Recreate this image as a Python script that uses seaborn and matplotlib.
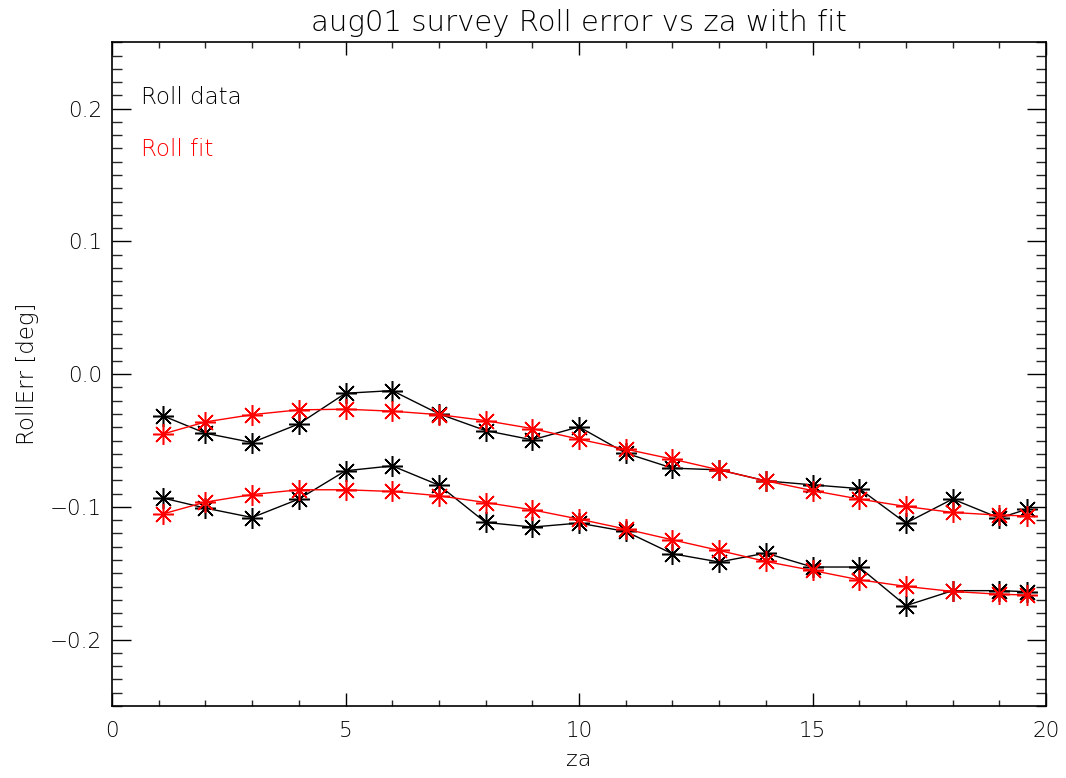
import matplotlib
matplotlib.use("Agg")
import matplotlib.pyplot as plt
import seaborn as sns
import pandas as pd
from matplotlib.ticker import MultipleLocator

# ---- data ----
za = [1.1, 2, 3, 4, 5, 6, 7, 8, 9, 10, 11, 12, 13, 14, 15, 16, 17, 18, 19, 19.6]

upper_data = [-0.0315, -0.0445, -0.0515, -0.0375, -0.0144, -0.0124, -0.0299, -0.0425,
              -0.0495, -0.0397, -0.0595, -0.0708, -0.0721, -0.0804, -0.0834, -0.0862,
              -0.1122, -0.0941, -0.1084, -0.1017]
upper_fit = [-0.0450, -0.0360, -0.0305, -0.0269, -0.0264, -0.0279, -0.0305, -0.0350,
             -0.0410, -0.0490, -0.0565, -0.0640, -0.0721, -0.0804, -0.0877, -0.0941,
             -0.0997, -0.1042, -0.1062, -0.1068]
lower_data = [-0.0934, -0.1009, -0.1080, -0.0941, -0.0728, -0.0691, -0.0836, -0.1117,
              -0.1152, -0.1122, -0.1185, -0.1353, -0.1415, -0.1348, -0.1453, -0.1453,
              -0.1744, -0.1631, -0.1631, -0.1639]
lower_fit = [-0.1052, -0.0964, -0.0907, -0.0871, -0.0871, -0.0884, -0.0916, -0.0967,
             -0.1022, -0.1092, -0.1167, -0.1248, -0.1328, -0.1411, -0.1479, -0.1549,
             -0.1599, -0.1637, -0.1658, -0.1664]

title = "aug01 survey Roll error vs za with fit"
xlabel = "za"
ylabel = "RollErr [deg]"
legend_labels = ["Roll data", "Roll fit"]

# ---- style ----
sns.set_theme(style="white")
plt.rcParams["font.family"] = ["DejaVu Sans"]
plt.rcParams["font.weight"] = "light"
plt.rcParams["text.color"] = "black"

fig = plt.figure(figsize=(10.66, 7.78), dpi=100)
ax = fig.add_axes([112 / 1066, 1 - 706 / 778, 934 / 1066, (706 - 42.3) / 778])

marker = (8, 2, 0)
series = [
    (upper_data, "black"),
    (lower_data, "black"),
    (upper_fit, "red"),
    (lower_fit, "red"),
]
for vals, col in series:
    df = pd.DataFrame({"za": za, "err": vals})
    sns.lineplot(data=df, x="za", y="err", ax=ax, color=col, lw=1.0,
                 marker=marker, markersize=15, markeredgewidth=1.1,
                 markeredgecolor=col, sort=False, errorbar=None)

ax.set_xlim(0, 20)
ax.set_ylim(-0.25, 0.25)
ax.xaxis.set_minor_locator(MultipleLocator(1))
ax.yaxis.set_minor_locator(MultipleLocator(0.01))
ax.set_xticks([0, 5, 10, 15, 20])
ax.set_xticklabels(["0", "5", "10", "15", "20"])
ax.set_yticks([-0.2, -0.1, 0.0, 0.1, 0.2])
ax.set_yticklabels(["\u22120.2", "\u22120.1", "0.0", "0.1", "0.2"])

ax.tick_params(axis="x", which="major", direction="in", length=9.4, width=1.0,
               top=True, bottom=True, labelsize=15.5, pad=11, colors="black")
ax.tick_params(axis="x", which="minor", direction="in", length=4.5, width=1.0,
               top=True, bottom=True)
ax.tick_params(axis="y", which="major", direction="in", length=13.7, width=1.0,
               left=True, right=True, labelsize=15.5, pad=7, colors="black")
ax.tick_params(axis="y", which="minor", direction="in", length=7, width=1.0,
               left=True, right=True)
for lab in ax.get_xticklabels() + ax.get_yticklabels():
    lab.set_fontweight("light")
for sp in ax.spines.values():
    sp.set_color("black")
    sp.set_linewidth(1.2)

ax.set_title(title, fontsize=21, pad=8, color="black", fontweight="light")
ax.set_xlabel(xlabel, fontsize=16, labelpad=6, color="black", fontweight="light")
ax.set_ylabel(ylabel, fontsize=16.5, labelpad=8, color="black", fontweight="light")

ax.text(0.0315, 0.917, legend_labels[0], transform=ax.transAxes, color="black",
        fontsize=16.5, va="center", ha="left", fontweight="light")
ax.text(0.0315, 0.838, legend_labels[1], transform=ax.transAxes, color="red",
        fontsize=16.5, va="center", ha="left", fontweight="light")

fig.savefig("out.png", dpi=100, facecolor="white")
